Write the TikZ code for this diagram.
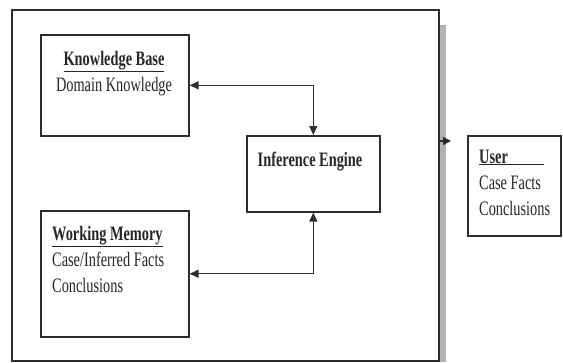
\documentclass[tikz,border=0pt]{standalone}
\usepackage{fontspec}
\setmainfont{Liberation Serif}[FakeStretch=0.70]
\usepackage{tikz}
\usetikzlibrary{arrows.meta, positioning}
\definecolor{cLine}{RGB}{45,45,45}
\definecolor{cShadow}{RGB}{178,178,178}
\tikzset{
	panel/.style={rectangle, draw=cLine, line width=1.6pt, anchor=north west, inner sep=0pt},
	boxtext/.style={font=\fontsize{20.5}{26}\selectfont, text=black!85, inner sep=0pt},
	twoway/.style={{Triangle[length=9pt,width=8pt]}-{Triangle[length=9pt,width=8pt]}, line width=1.3pt, draw=cLine},
	flowarrow/.style={-{Triangle[length=8pt,width=8pt]}, line width=1.3pt, draw=cLine},
}
\begin{document}
\begin{tikzpicture}[x=1pt, y=-1pt]
	\useasboundingbox (0,0) rectangle (563,362);
	% outer system box with its shadow
	\fill[cShadow] (438,25) rectangle (446,362);
	\node[panel, minimum width=427pt, minimum height=351pt] (outer) at (11,9) {};
	% components
	\node[panel, minimum width=148pt, minimum height=101pt] (kb) at (40,34) {};
	\node[panel, minimum width=133pt, minimum height=76pt] (ie) at (246,135) {};
	\node[panel, minimum width=148pt, minimum height=126pt] (wm) at (40,210) {};
	\node[panel, minimum width=93pt, minimum height=100pt] (user) at (467,135) {};
	% texts (base = last line)
	\node[boxtext, align=center, anchor=base] (kbtext) at (114,91) {\textbf{\underline{Knowledge Base}}\\Domain Knowledge};
	\node[boxtext, anchor=base] (ietext) at (310,166) {\textbf{Inference Engine}};
	\node[boxtext, align=left, anchor=base west] (wmtext) at (52,292) {\textbf{\underline{Working Memory}}\\Case/Inferred Facts\\Conclusions};
	\node[boxtext, align=left, anchor=base west] (usertext) at (479,215) {\underline{\textbf{User}\hspace{36pt}}\\Case Facts\\Conclusions};
	% connectors
	\draw[twoway] (kb.east) -| (ie.north);
	\draw[twoway] (wm.east) -| (ie.south);
	\coordinate (touser) at (451,141);
	\draw[flowarrow] (outer.east |- touser) -- (touser);
\end{tikzpicture}
\end{document}
